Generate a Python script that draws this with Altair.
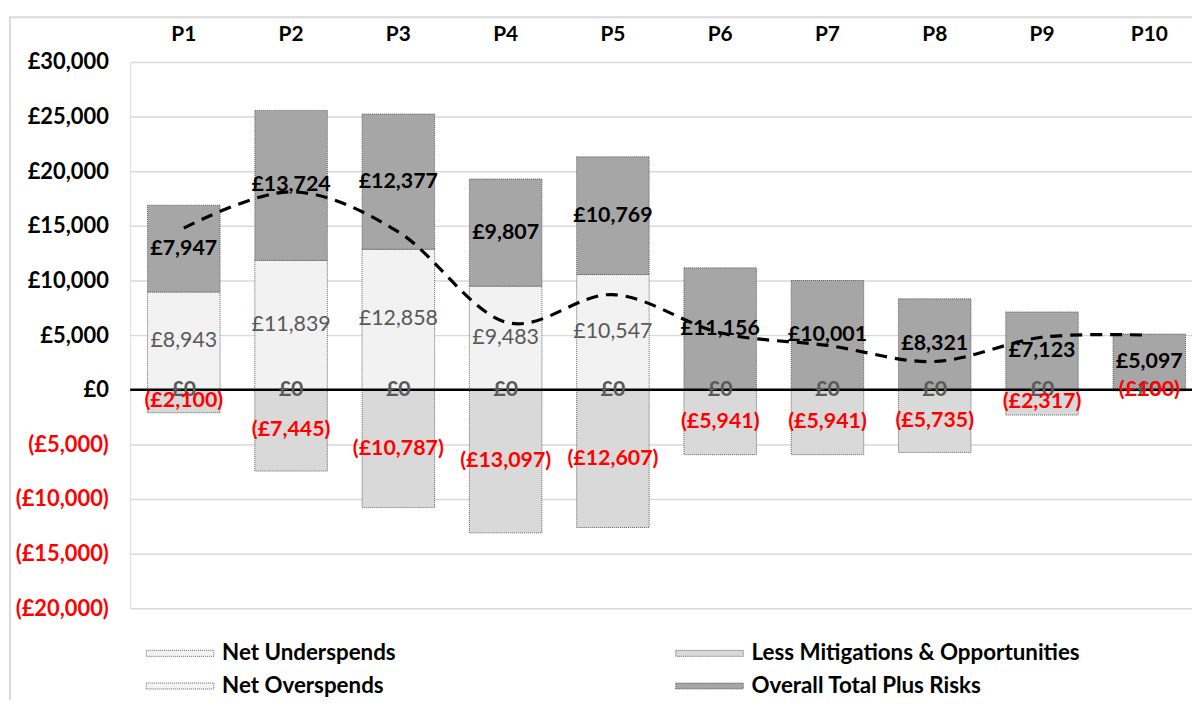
import altair as alt
import pandas as pd

periods = ["P1", "P2", "P3", "P4", "P5", "P6", "P7", "P8", "P9", "P10"]
net_underspends = [8943, 11839, 12858, 9483, 10547, 0, 0, 0, 0, 0]
net_overspends = [0, 0, 0, 0, 0, 0, 0, 0, 0, 0]
less_mitigations = [-2100, -7445, -10787, -13097, -12607, -5941, -5941, -5735, -2317, -100]
overall_total = [7947, 13724, 12377, 9807, 10769, 11156, 10001, 8321, 7123, 5097]
trend_line = [14790, 18118, 14448, 6193, 8709, 5215, 4060, 2586, 4806, 4997]

series_names = ["Net Underspends", "Net Overspends",
                "Less Mitigations & Opportunities", "Overall Total Plus Risks"]
series_colors = ["#F2F2F2", "#F4F4F4", "#D9D9D9", "#A6A6A6"]
stack_order = {"Net Overspends": 0, "Net Underspends": 1,
               "Overall Total Plus Risks": 2, "Less Mitigations & Opportunities": 3}

rows = []
for i, p in enumerate(periods):
    for name, vals in [("Net Underspends", net_underspends),
                       ("Net Overspends", net_overspends),
                       ("Overall Total Plus Risks", overall_total),
                       ("Less Mitigations & Opportunities", less_mitigations)]:
        rows.append({"period": p, "series": name, "value": vals[i], "ord": stack_order[name]})
df = pd.DataFrame(rows)
line_df = pd.DataFrame({"period": periods, "trend": trend_line})
border_df = pd.DataFrame({"k": [0]})

FONT = "Lato"
xscale = alt.Scale(domain=periods, range=[0, 1080], paddingInner=0.324, paddingOuter=0.162)
yscale = alt.Scale(domain=[-20000, 30000], nice=False, zero=False)

base = alt.Chart(df).transform_stack(
    stack="value", groupby=["period"], as_=["v0", "v1"],
    sort=[alt.SortField("ord", order="ascending")]
).transform_calculate(
    mid="(datum.v0 + datum.v1) / 2",
    label="datum.value < 0 ? '(£' + format(-datum.value, ',') + ')' : '£' + format(datum.value, ',')"
)

xenc = alt.X("period:N", scale=xscale, sort=periods,
             axis=alt.Axis(orient="top", title=None, labelAngle=0, ticks=False, domain=False,
                           labelFontSize=21, labelFontWeight="bold", labelColor="black",
                           labelFont=FONT, labelPadding=18, grid=False))

border = alt.Chart(border_df).mark_rect(fillOpacity=0, stroke="#D9D9D9", strokeWidth=2).encode(
    x=alt.value(-121), x2=alt.value(1200), y=alt.value(-45), y2=alt.value(700)
)

bars = base.mark_bar(stroke="#404040", strokeWidth=0.8, strokeDash=[1, 1]).encode(
    x=xenc,
    y=alt.Y("v0:Q", scale=yscale, title=None,
            axis=alt.Axis(values=list(range(-20000, 30001, 5000)), domain=False, ticks=False,
                          grid=True, gridColor="#D9D9D9", gridWidth=1.5,
                          labelFontSize=22, labelFontWeight="bold", labelFont=FONT,
                          labelPadding=22,
                          labelColor=alt.ExprRef("datum.value < 0 ? '#FF0000' : '#000000'"),
                          labelExpr="datum.value < 0 ? '(£' + format(-datum.value, ',') + ')' : '£' + format(datum.value, ',')")),
    y2="v1:Q",
    color=alt.Color("series:N", scale=alt.Scale(domain=series_names, range=series_colors),
                    legend=alt.Legend(title=None, orient="none", legendX=39, legendY=584,
                                      columns=2, columnPadding=279, rowPadding=10,
                                      gridAlign="each",
                                      symbolType="M-5.67,-0.5L5.67,-0.5L5.67,0.5L-5.67,0.5Z",
                                      symbolSize=144, symbolStrokeColor="#404040",
                                      symbolStrokeWidth=0.8, symbolDash=[1, 1],
                                      symbolOpacity=1, labelOffset=31,
                                      labelFont=FONT, labelFontSize=22.5, labelFontWeight="bold",
                                      labelColor="black", labelLimit=600)),
)

zero = alt.Chart(border_df).mark_rule(color="black", strokeWidth=2.5).encode(
    y=alt.datum(0, scale=yscale)
)

line = alt.Chart(line_df).mark_line(color="black", strokeWidth=3.2, strokeDash=[12, 8],
                                    interpolate="cardinal").encode(
    x=alt.X("period:N", scale=xscale, sort=periods),
    y=alt.Y("trend:Q", scale=yscale),
)

txt_under = base.transform_filter(
    "datum.series == 'Net Underspends' && datum.value > 0"
).mark_text(font=FONT, fontSize=21.5, color="#595959").encode(
    x=alt.X("period:N", scale=xscale, sort=periods), y=alt.Y("mid:Q", scale=yscale), text="label:N")

txt_over = base.transform_filter("datum.series == 'Net Overspends'").mark_text(
    font=FONT, fontSize=21.5, fontWeight="bold", color="#595959").encode(
    x=alt.X("period:N", scale=xscale, sort=periods), y=alt.Y("mid:Q", scale=yscale), text="label:N")

txt_total = base.transform_filter("datum.series == 'Overall Total Plus Risks'").mark_text(
    font=FONT, fontSize=21.5, fontWeight="bold", color="black").encode(
    x=alt.X("period:N", scale=xscale, sort=periods), y=alt.Y("mid:Q", scale=yscale), text="label:N")

txt_mit = base.transform_filter("datum.series == 'Less Mitigations & Opportunities'").mark_text(
    font=FONT, fontSize=21.5, fontWeight="bold", color="#FF0000").encode(
    x=alt.X("period:N", scale=xscale, sort=periods), y=alt.Y("mid:Q", scale=yscale), text="label:N")

chart = alt.layer(border, bars, zero, line, txt_under, txt_over, txt_total, txt_mit).properties(
    width=1069, height=550,
    autosize=alt.AutoSizeParams(type="none"),
    padding={"left": 123, "top": 52, "right": 0, "bottom": 90},
).configure_view(stroke=None).configure(background="white")

chart.save("out.html", embed_options={"renderer": "svg", "actions": False})
